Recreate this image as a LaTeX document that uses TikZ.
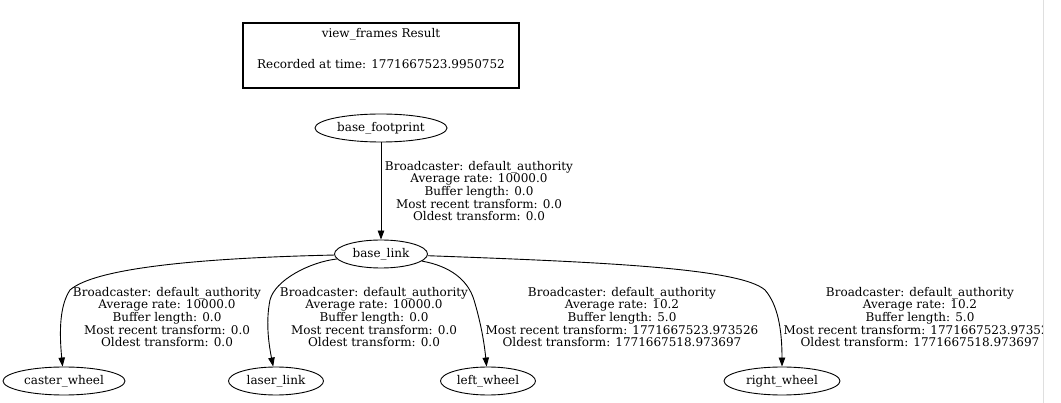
\documentclass[tikz,border=0pt]{standalone}
\usepackage{fontspec}
\setmainfont{DejaVu Serif}
\usetikzlibrary{shapes.geometric,arrows.meta}
\tikzset{
  frame/.style={draw, ellipse, inner sep=0pt, minimum height=28pt, line width=0.9pt, font=\fontsize{12}{12.6}\selectfont},
  lbl/.style={align=center, inner sep=0pt, font=\fontsize{12}{12.6}\selectfont},
  edge/.style={draw, line width=0.9pt, -{Triangle[length=9pt,width=6.5pt]}},
  titlebox/.style={draw, rectangle, line width=1.3pt, minimum width=276pt, minimum height=65pt, align=center, inner sep=0pt, font=\fontsize{12}{12.6}\selectfont}
}
\begin{document}
\begin{tikzpicture}[x=1pt,y=-1pt]
\useasboundingbox (0,0) rectangle (1061,403);
\begin{scope}
\clip (0,0) rectangle (1043,403);
\node[titlebox] (title) at (381,55.5) {view\_frames Result\\[18pt]Recorded at time: 1771667523.9950752\\[1pt]\mbox{}};
\node[frame, minimum width=132pt] (bf) at (381,128) {base\_footprint};
\node[frame, minimum width=93pt] (bl) at (381,254) {base\_link};
\node[frame, minimum width=122pt] (cw) at (64,381) {caster\_wheel};
\node[frame, minimum width=95pt] (ll) at (276,381) {laser\_link};
\node[frame, minimum width=95pt] (lw) at (488,381) {left\_wheel};
\node[frame, minimum width=116pt] (rw) at (782,381) {right\_wheel};

\draw[edge] (bf) -- (bl);
\draw[edge] (bl) .. controls (200,258) and (95,268) .. (70,290) .. controls (60,305) and (59,330) .. (cw);
\draw[edge] (bl) .. controls (310,262) and (275,280) .. (270,300) .. controls (266,320) and (268,340) .. (ll);
\draw[edge] (bl) .. controls (450,266) and (468,280) .. (474,300) .. controls (480,320) and (484,340) .. (lw);
\draw[edge] (bl) .. controls (600,262) and (740,268) .. (765,290) .. controls (778,305) and (782,330) .. (rw);

\node[lbl] (l0) at (479,191) {Broadcaster: default\_authority\\Average rate: 10000.0\\Buffer length: 0.0\\Most recent transform: 0.0\\Oldest transform: 0.0};
\node[lbl] (l1) at (167,317) {Broadcaster: default\_authority\\Average rate: 10000.0\\Buffer length: 0.0\\Most recent transform: 0.0\\Oldest transform: 0.0};
\node[lbl] (l2) at (374,317) {Broadcaster: default\_authority\\Average rate: 10000.0\\Buffer length: 0.0\\Most recent transform: 0.0\\Oldest transform: 0.0};
\node[lbl] (l3) at (622,317) {Broadcaster: default\_authority\\Average rate: 10.2\\Buffer length: 5.0\\Most recent transform: 1771667523.973526\\Oldest transform: 1771667518.973697};
\node[lbl] (l4) at (920,317) {Broadcaster: default\_authority\\Average rate: 10.2\\Buffer length: 5.0\\Most recent transform: 1771667523.973526\\Oldest transform: 1771667518.973697};
\end{scope}
\draw[gray!25, line width=0.8pt] (1043,0) -- (1043,403);
\end{tikzpicture}
\end{document}
